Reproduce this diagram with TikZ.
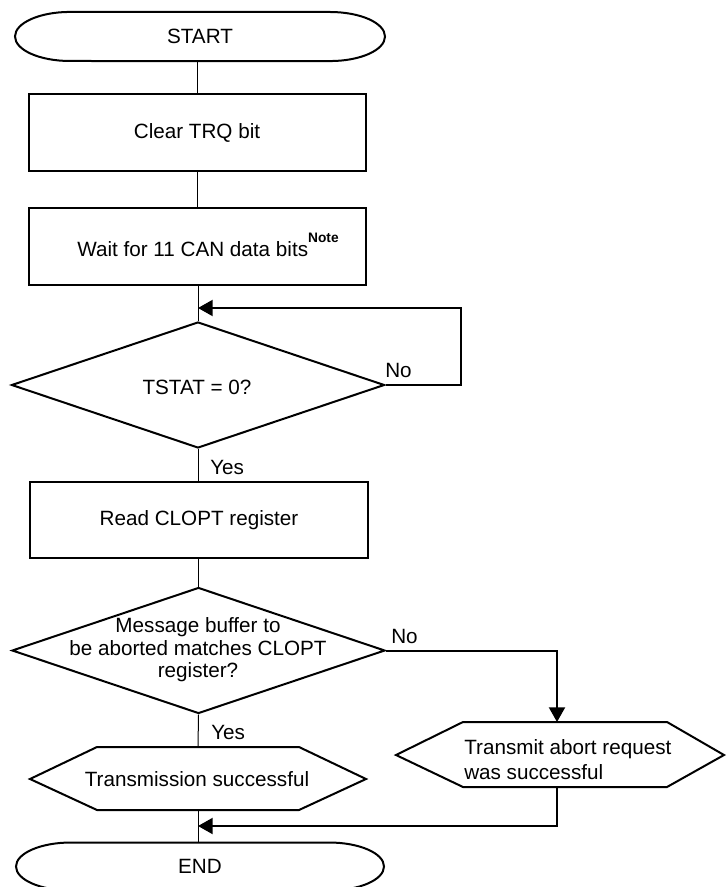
\documentclass[tikz,border=0pt]{standalone}
\usepackage{fontspec}
\setmainfont{Liberation Sans}
\usetikzlibrary{shapes.geometric,shapes.misc,arrows.meta}
\def\pxu{0.75pt}
\begin{document}
\begin{tikzpicture}[x=0.75pt,y=-0.75pt,
  every node/.style={font=\fontsize{15.5}{18}\selectfont, inner sep=0pt},
  outl/.style={draw, line width=1.5pt, line join=miter},
  boxs/.style={outl, rectangle, minimum width=337*\pxu, minimum height=77*\pxu},
  term/.style={rectangle, minimum width=370*\pxu, minimum height=49*\pxu},
  dia/.style={outl, diamond, minimum width=373*\pxu, minimum height=126*\pxu},
  conn/.style={line width=0.75pt},
  heavy/.style={line width=1.5pt, -{Triangle[length=11pt,width=12pt]}},
  lab/.style={anchor=west}
]
\useasboundingbox (0,0) rectangle (726,887);

% START terminator
\node[term] (start) at (200,36.5) {START};
\draw[outl] (70,12) -- (330,12)
  arc[start angle=90, end angle=-90, x radius=41.25pt, y radius=18.4pt]
  -- (70,61)
  arc[start angle=-90, end angle=-270, x radius=41.25pt, y radius=18.4pt] -- cycle;

\node[boxs] (b1) at (197,133) {Clear TRQ bit};
\node[boxs] (b2) at (197,246.5) {};
\node[anchor=base west] (b2t) at (77,257) {Wait for 11 CAN data bits\raisebox{11pt}[0pt][0pt]{\fontsize{10.3}{10.3}\selectfont\bfseries Note}};
\node[dia] (d1) at (198,385) {};
\node (d1t) at (197,387) {TSTAT = 0?};
\node[boxs, minimum width=338*\pxu, minimum height=76*\pxu] (b3) at (199,520) {Read CLOPT register};
\node[dia] (d2) at (198.5,650.5) {};
\node[align=center, font=\fontsize{15.5}{16.9}\selectfont] (d2t) at (198,650) {Message buffer to\\be aborted matches CLOPT\\register?};

% hexagon 1
\draw[outl] (30,779) -- (97,747) -- (299,747) -- (366,779) -- (299,810) -- (97,810) -- cycle;
\node (h1) at (197,779) {Transmission successful};
\coordinate (h1n) at (198,747);
\coordinate (h1s) at (198,810);

% hexagon 2
\draw[outl] (396,755) -- (463,722) -- (667,722) -- (724,755) -- (667,787) -- (463,787) -- cycle;
\node[align=left, anchor=west, font=\fontsize{15.5}{18.75}\selectfont] (h2) at (464,760) {Transmit abort request\\was successful};
\coordinate (h2n) at (557,722);
\coordinate (h2s) at (557,787);

% END terminator
\node[term, minimum height=47*\pxu] (end) at (200,866) {END};
\draw[outl] (71,842.5) -- (329,842.5)
  arc[start angle=90, end angle=-90, x radius=41.25pt, y radius=18pt]
  -- (71,890.5)
  arc[start angle=-90, end angle=-270, x radius=41.25pt, y radius=18pt] -- cycle;

% connectors
\coordinate (m1) at (198,308);
\coordinate (lp1) at (461,385);
\coordinate (lp2) at (461,308);
\coordinate (nr) at (557,650.5);
\coordinate (m2) at (198,826);
\coordinate (mr) at (557,826);

\draw[conn] (start.south -| b1.north) -- (b1.north);
\draw[conn] (b1.south) -- (b2.north);
\draw[conn] (b2.south -| d1.north) -- (d1.north);
\draw[heavy] (d1.east) -- (lp1) -- (lp2) -- (m1);
\draw[conn] (d1.south) -- (b3.north -| d1.south);
\draw[conn] (b3.south -| d2.north) -- (d2.north);
\draw[heavy] (d2.east) -- (nr) -- (h2n);
\draw[conn] (d2.south) -- (h1n);
\draw[conn] (h1s) -- (end.north -| h1s);
\draw[heavy] (h2s) -- (mr) -- (m2);

\node[lab] (yes1) at (210,467) {Yes};
\node[lab] (no1) at (385,370) {No};
\node[lab] (yes2) at (211,732) {Yes};
\node[lab] (no2) at (391,636) {No};
\end{tikzpicture}
\end{document}
